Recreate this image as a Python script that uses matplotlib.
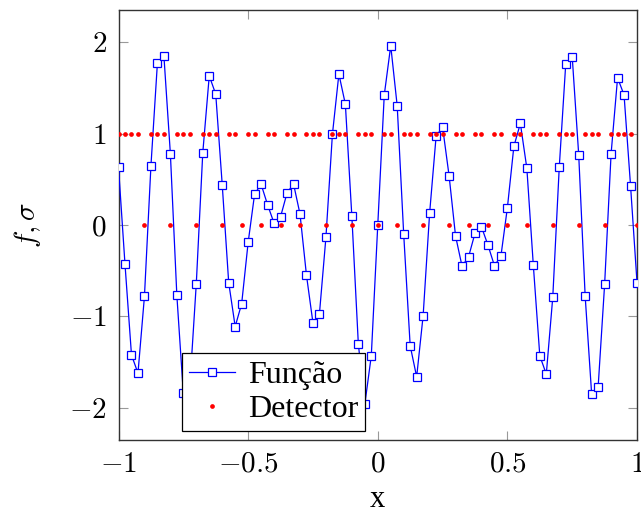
import matplotlib
matplotlib.use("Agg")
import matplotlib.pyplot as plt
import numpy as np

# ---- data ----
x_vals = [round(-1 + 0.025 * i, 3) for i in range(81)]

f_vals = [
    0.63, -0.43, -1.42, -1.62, -0.78, 0.645, 1.77, 1.85, 0.78, -0.77,
    -1.84, -1.76, -0.64, 0.79, 1.63, 1.43, 0.44, -0.63, -1.11, -0.86,
    -0.19, 0.34, 0.445, 0.22, 0.02, 0.09, 0.35, 0.45, 0.12, -0.55,
    -1.07, -0.97, -0.135, 0.99, 1.65, 1.32, 0.095, -1.30, -1.96, -1.43,
    0.0,
    1.42, 1.96, 1.30, -0.10, -1.32, -1.66, -0.99, 0.13, 0.97, 1.07,
    0.54, -0.12, -0.45, -0.35, -0.09, -0.02, -0.22, -0.445, -0.34, 0.19,
    0.86, 1.11, 0.62, -0.44, -1.43, -1.63, -0.79, 0.63, 1.76, 1.84,
    0.77, -0.78, -1.85, -1.77, -0.65, 0.78, 1.61, 1.42, 0.43, -0.63,
]

det_vals = [
    1, 1, 1, 1, 0, 1, 1, 1, 0, 1,
    1, 1, 0, 1, 1, 1, 0, 1, 1, 0,
    1, 1, 0, 1, 1, 0, 1, 1, 0, 1,
    1, 1, 0, 1, 1, 1, 0, 1, 1, 1,
    0,
    1, 1, 0, 1, 1, 1, 0, 1, 1, 1,
    0, 1, 1, 0, 1, 1, 0, 1, 1, 0,
    1, 1, 0, 1, 1, 1, 0, 1, 1, 1,
    0, 1, 1, 1, 0, 1, 1, 1, 1, 0,
]

xticks = [-1, -0.5, 0, 0.5, 1]
xtick_labels = [r"$-1$", r"$-0.5$", r"$0$", r"$0.5$", r"$1$"]
yticks = [-2, -1, 0, 1, 2]
ytick_labels = [r"$-2$", r"$-1$", r"$0$", r"$1$", r"$2$"]

# ---- style ----
plt.rcParams["mathtext.fontset"] = "cm"
plt.rcParams["font.family"] = ["Liberation Serif", "DejaVu Serif"]
plt.rcParams["axes.unicode_minus"] = False
FS = 21

fig = plt.figure(figsize=(6.41, 5.13), dpi=100)
ax = fig.add_axes([0.1849, 0.1423, 0.9938 - 0.1849, 0.9805 - 0.1423])

ax.plot(x_vals, f_vals, color="#0000ff", lw=0.9, marker="s", ms=5.5,
        mfc="white", mec="#0000ff", mew=0.9, label="Função", zorder=3)
ax.plot(x_vals, det_vals, ls="none", marker="o", ms=3.4, color="#ff0000",
        mec="none", label="Detector", zorder=4)

ax.set_xlim(-1, 1)
ax.set_ylim(-2.35, 2.35)
ax.set_xticks(xticks)
ax.set_xticklabels(xtick_labels)
ax.set_yticks(yticks)
ax.set_yticklabels(ytick_labels)
ax.tick_params(direction="in", length=6.5, width=0.8, color="#999999",
               top=True, right=True, labelsize=FS, pad=8.5)
for s in ax.spines.values():
    s.set_linewidth(1.0)
    s.set_color("#333333")

ax.set_xlabel("x", fontsize=22)
ax.xaxis.set_label_coords(0.5, -0.105)
ax.set_ylabel(r"$f,\sigma$", fontsize=FS)
ax.yaxis.set_label_coords(-0.145, 0.5)

leg = ax.legend(loc="lower left", bbox_to_anchor=(0.1225, 0.021),
                borderaxespad=0, fontsize=23, frameon=True, fancybox=False,
                edgecolor="black", framealpha=1, handlelength=1.45,
                handletextpad=0.4, borderpad=0.22, labelspacing=0.15,
                markerscale=1.0)
leg.get_frame().set_linewidth(0.9)

fig.savefig("out.png", dpi=100)
